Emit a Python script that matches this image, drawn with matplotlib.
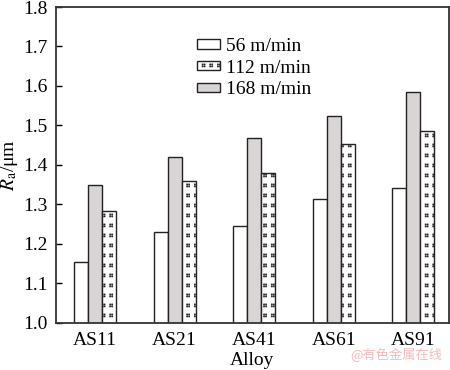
import matplotlib
matplotlib.use("Agg")
import matplotlib.pyplot as plt
import matplotlib.hatch as mhatch
from matplotlib.path import Path
import numpy as np
from matplotlib.patches import Patch

alloys = ["AS11", "AS21", "AS41", "AS61", "AS91"]
labels = ["56 m/min", "112 m/min", "168 m/min"]
v56 = [1.155, 1.231, 1.246, 1.313, 1.342]
v112 = [1.284, 1.360, 1.379, 1.452, 1.486]
v168 = [1.350, 1.420, 1.469, 1.525, 1.585]
yticks = [1.0, 1.1, 1.2, 1.3, 1.4, 1.5, 1.6, 1.7, 1.8]


# custom hatch: clusters of 2x2 tiny squares (replaces the '.' pattern)
class ClusterDots(mhatch.HatchPatternBase):
    ncols, nrows = 13, 10
    side, gap = 0.011, 0.009

    def __init__(self, hatch, density):
        self.on = hatch.count('.') > 0
        self.num_vertices = self.ncols * self.nrows * 4 * 5 if self.on else 0

    def set_vertices_and_codes(self, vertices, codes):
        s, g = self.side, self.gap
        k = 0
        for i in range(self.ncols):
            for j in range(self.nrows):
                x0 = i / self.ncols + 0.02
                y0 = j / self.nrows + 0.03
                for dx in (0, s + g):
                    for dy in (0, s + g):
                        xa, ya = x0 + dx, y0 + dy
                        vertices[k:k + 5] = [(xa, ya), (xa + s, ya), (xa + s, ya + s),
                                             (xa, ya + s), (xa, ya)]
                        codes[k:k + 5] = [Path.MOVETO, Path.LINETO, Path.LINETO,
                                          Path.LINETO, Path.CLOSEPOLY]
                        k += 5


mhatch._hatch_types = [t for t in mhatch._hatch_types
                       if t is not mhatch.SmallFilledCircles] + [ClusterDots]

plt.rcParams['font.family'] = ['Liberation Serif', 'DejaVu Serif']
plt.rcParams['mathtext.fontset'] = 'stix'
plt.rcParams['hatch.linewidth'] = 0.4

gray = '#dad5d5'
edge = '#222222'
hatch = '.'

fig = plt.figure(figsize=(4.5, 3.7), dpi=100)
ax = fig.add_axes([0.1244, 0.1278, 0.8734, 0.8532])

x = np.arange(len(alloys))
w = 0.176
ax.bar(x - w, v56, w, color='white', edgecolor=edge, linewidth=1.0)
ax.bar(x, v168, w, color=gray, edgecolor=edge, linewidth=1.0)
ax.bar(x + w, v112, w, color='white', edgecolor=edge, linewidth=1.0, hatch=hatch)

ax.set_ylim(1.0, 1.8)
ax.set_xlim(-0.49, 4.45)
ax.set_yticks(yticks)
ax.set_yticklabels([f"{t:.1f}" for t in yticks])
ax.set_xticks(x)
ax.set_xticklabels(alloys)
ax.tick_params(axis='y', direction='in', length=4, width=1, labelsize=14, pad=6)
ax.tick_params(axis='x', length=0, labelsize=14, pad=7)
for s in ax.spines.values():
    s.set_linewidth(1.3)
    s.set_color('#333333')

ax.set_xlabel("Alloy", fontsize=14, labelpad=2)
ax.set_ylabel(r"$R_\mathrm{a}$/μm", fontsize=14, labelpad=2)

handles = [Patch(facecolor='white', edgecolor=edge, linewidth=1.0),
           Patch(facecolor='white', edgecolor=edge, linewidth=1.0, hatch=hatch),
           Patch(facecolor=gray, edgecolor=edge, linewidth=1.0)]
ax.legend(handles, labels, loc='upper left', bbox_to_anchor=(0.36, 0.903),
          frameon=False, fontsize=14, handlelength=1.15, handleheight=0.4,
          handletextpad=0.3, labelspacing=0.25, borderpad=0, borderaxespad=0)

fig.text(0.983, 0.022, "@有色金属在线", color='#f2bcbc', fontsize=9.5,
         ha='right', va='bottom', family=['Noto Sans CJK SC', 'DejaVu Sans'])

fig.savefig("out.png", dpi=100)
